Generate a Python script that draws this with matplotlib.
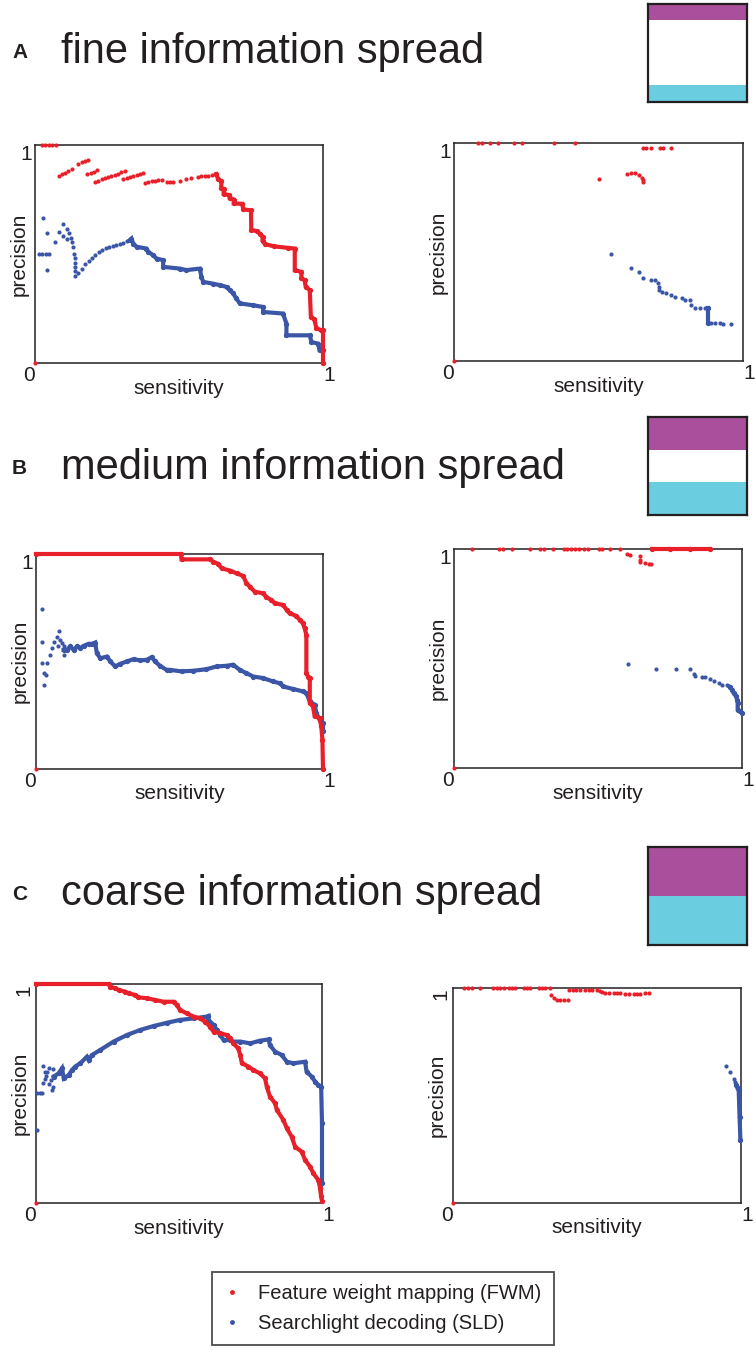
import matplotlib.pyplot as plt
from matplotlib.lines import Line2D

plt.rcParams['font.family'] = ['Liberation Sans', 'DejaVu Sans']

RED = '#e8202a'
BLUE = '#3b56a6'
PURPLE = '#aa4f9b'
CYAN = '#6acde0'
INK = '#231f20'

titles = ['fine information spread', 'medium information spread', 'coarse information spread']
letters = ['A', 'B', 'C']

# colour boxes, bottom to top: cyan, white, purple
box_a = [0.17, 0.67, 0.16]
box_b = [0.34, 0.32, 0.34]
box_c = [0.50, 0.00, 0.50]

# ---- A, left
a_left_fwm_dots = [(0.0, 0.0), (0.023, 1.0), (0.035, 1.0), (0.047, 1.0), (0.06, 1.0), (0.072, 1.0),
                   (0.085, 0.857), (0.095, 0.865), (0.105, 0.873), (0.116, 0.881), (0.127, 0.89),
                   (0.15, 0.914), (0.162, 0.92), (0.173, 0.925), (0.185, 0.931),
                   (0.182, 0.866), (0.193, 0.871), (0.204, 0.877), (0.214, 0.884),
                   (0.208, 0.832), (0.219, 0.837), (0.231, 0.842), (0.242, 0.848), (0.254, 0.853),
                   (0.265, 0.858), (0.277, 0.864), (0.288, 0.869), (0.3, 0.875), (0.312, 0.881),
                   (0.306, 0.842), (0.318, 0.847), (0.33, 0.853), (0.342, 0.858), (0.353, 0.863),
                   (0.365, 0.868), (0.376, 0.873),
                   (0.382, 0.826), (0.393, 0.83), (0.405, 0.834), (0.416, 0.833), (0.428, 0.838),
                   (0.44, 0.84), (0.457, 0.828), (0.468, 0.832), (0.48, 0.83),
                   (0.503, 0.836), (0.526, 0.842), (0.543, 0.847),
                   (0.566, 0.855), (0.578, 0.856), (0.59, 0.858), (0.601, 0.86), (0.613, 0.862), (0.624, 0.866)]
a_left_fwm_line = [(0.63, 0.866), (0.636, 0.842), (0.647, 0.835), (0.647, 0.801), (0.655, 0.797),
                   (0.655, 0.775), (0.675, 0.77), (0.676, 0.755), (0.69, 0.75), (0.69, 0.732),
                   (0.72, 0.73), (0.723, 0.705), (0.75, 0.70), (0.751, 0.61), (0.77, 0.605),
                   (0.78, 0.594), (0.79, 0.58), (0.79, 0.56), (0.80, 0.545), (0.83, 0.535),
                   (0.88, 0.528), (0.902, 0.525), (0.902, 0.426), (0.925, 0.418), (0.925, 0.39),
                   (0.936, 0.38), (0.94, 0.35), (0.954, 0.334), (0.958, 0.21), (0.97, 0.2),
                   (0.977, 0.16), (0.994, 0.15), (1.0, 0.15), (1.0, 0.0)]
a_left_sld_dots = [(0.014, 0.498), (0.026, 0.498), (0.038, 0.498), (0.05, 0.498), (0.027, 0.666),
                   (0.043, 0.597), (0.043, 0.426), (0.069, 0.553), (0.084, 0.599), (0.098, 0.636),
                   (0.11, 0.613), (0.098, 0.582), (0.11, 0.568), (0.118, 0.595), (0.124, 0.575),
                   (0.13, 0.555), (0.133, 0.53), (0.136, 0.5), (0.138, 0.48), (0.14, 0.46),
                   (0.14, 0.44), (0.14, 0.42), (0.14, 0.4),
                   (0.15, 0.415), (0.162, 0.432), (0.174, 0.452), (0.186, 0.468), (0.198, 0.483),
                   (0.21, 0.497), (0.222, 0.51), (0.234, 0.519), (0.246, 0.527), (0.258, 0.531),
                   (0.27, 0.537), (0.282, 0.543), (0.294, 0.547), (0.306, 0.552), (0.318, 0.56)]
a_left_sld_line = [(0.33, 0.565), (0.335, 0.571), (0.341, 0.548), (0.353, 0.533), (0.387, 0.525),
                   (0.393, 0.51), (0.41, 0.495), (0.422, 0.479), (0.445, 0.472), (0.445, 0.441),
                   (0.503, 0.433), (0.526, 0.426), (0.572, 0.433), (0.578, 0.395), (0.584, 0.372),
                   (0.618, 0.364), (0.642, 0.357), (0.665, 0.349), (0.676, 0.334), (0.688, 0.319),
                   (0.699, 0.296), (0.711, 0.273), (0.757, 0.265), (0.792, 0.257), (0.792, 0.234),
                   (0.861, 0.227), (0.873, 0.181), (0.873, 0.127), (0.954, 0.127), (0.96, 0.096),
                   (0.983, 0.089), (0.988, 0.058), (1.0, 0.058)]

# ---- A, right
a_right_fwm_dots = [(0.0, 0.0), (0.084, 1.0), (0.098, 1.0), (0.124, 1.0), (0.153, 1.0), (0.209, 1.0),
                    (0.237, 1.0), (0.347, 1.0), (0.418, 1.0),
                    (0.654, 0.979), (0.666, 0.979), (0.683, 0.979), (0.712, 0.979), (0.724, 0.979),
                    (0.752, 0.979), (0.501, 0.837), (0.597, 0.86), (0.611, 0.863), (0.626, 0.864),
                    (0.641, 0.852), (0.652, 0.841), (0.654, 0.829), (0.654, 0.821)]
a_right_fwm_line = []
a_right_sld_dots = [(0.543, 0.493), (0.612, 0.427), (0.639, 0.409), (0.654, 0.383), (0.68, 0.371),
                    (0.695, 0.371), (0.706, 0.359), (0.708, 0.34), (0.71, 0.325), (0.718, 0.318),
                    (0.735, 0.31), (0.752, 0.302), (0.764, 0.295), (0.79, 0.287), (0.798, 0.279),
                    (0.816, 0.279), (0.821, 0.256), (0.833, 0.241), (0.85, 0.241), (0.868, 0.241),
                    (0.879, 0.241), (0.89, 0.173), (0.902, 0.173), (0.919, 0.173), (0.931, 0.169),
                    (0.96, 0.168)]
a_right_sld_line = [(0.879, 0.241), (0.879, 0.175)]

# ---- B, left
b_left_fwm_dots = [(0.0, 0.0)]
b_left_fwm_line = [(0.0, 1.0), (0.505, 1.0), (0.507, 0.975), (0.606, 0.975), (0.618, 0.964),
                   (0.635, 0.954), (0.647, 0.933), (0.676, 0.923), (0.699, 0.91), (0.722, 0.898),
                   (0.733, 0.864), (0.745, 0.848), (0.762, 0.825), (0.791, 0.817), (0.803, 0.799),
                   (0.82, 0.786), (0.832, 0.771), (0.861, 0.763), (0.873, 0.74), (0.884, 0.724),
                   (0.907, 0.712), (0.919, 0.693), (0.93, 0.678), (0.936, 0.655), (0.942, 0.624),
                   (0.942, 0.446), (0.948, 0.43), (0.954, 0.423), (0.954, 0.307), (0.965, 0.291),
                   (0.971, 0.245), (0.988, 0.237), (0.994, 0.198), (0.998, 0.136), (1.0, 0.0)]
b_left_sld_dots = [(0.021, 0.745), (0.021, 0.593), (0.021, 0.492), (0.038, 0.492), (0.027, 0.446),
                   (0.035, 0.438), (0.027, 0.392), (0.05, 0.531), (0.056, 0.562), (0.064, 0.593),
                   (0.073, 0.616), (0.079, 0.644), (0.075, 0.573), (0.085, 0.601), (0.09, 0.585),
                   (0.096, 0.57), (0.096, 0.531)]
b_left_sld_line = [(0.096, 0.554), (0.108, 0.554), (0.119, 0.57), (0.131, 0.554), (0.143, 0.57),
                   (0.154, 0.562), (0.166, 0.573), (0.183, 0.582), (0.195, 0.582), (0.206, 0.588),
                   (0.212, 0.539), (0.224, 0.515), (0.247, 0.523), (0.259, 0.5), (0.276, 0.477),
                   (0.293, 0.489), (0.316, 0.5), (0.34, 0.511), (0.363, 0.505), (0.386, 0.508),
                   (0.403, 0.52), (0.415, 0.5), (0.432, 0.48), (0.455, 0.461), (0.467, 0.461),
                   (0.507, 0.454), (0.548, 0.457), (0.594, 0.464), (0.629, 0.477), (0.664, 0.48),
                   (0.687, 0.485), (0.71, 0.461), (0.733, 0.446), (0.757, 0.43), (0.791, 0.423),
                   (0.826, 0.407), (0.849, 0.399), (0.861, 0.384), (0.896, 0.372), (0.93, 0.361),
                   (0.942, 0.353), (0.954, 0.314), (0.971, 0.299), (0.977, 0.26), (0.988, 0.229),
                   (1.0, 0.214), (1.0, 0.175)]

# ---- B, right
b_right_fwm_dots = [(0.0, 0.0), (0.061, 1.0), (0.156, 1.0), (0.169, 1.0), (0.203, 1.0), (0.264, 1.0),
                    (0.299, 1.0), (0.311, 1.0), (0.345, 1.0), (0.382, 1.0), (0.392, 1.0), (0.407, 1.0),
                    (0.421, 1.0), (0.435, 1.0), (0.452, 1.0), (0.467, 1.0), (0.502, 1.0), (0.513, 1.0),
                    (0.542, 1.0), (0.577, 1.0),
                    (0.6, 0.979), (0.612, 0.974), (0.647, 0.97), (0.647, 0.951), (0.647, 0.939),
                    (0.664, 0.936), (0.676, 0.933), (0.684, 0.933)]
b_right_fwm_line = [(0.687, 1.0), (0.75, 1.0), (0.82, 1.0), (0.89, 1.0)]
b_right_sld_dots = [(0.603, 0.476), (0.702, 0.454), (0.772, 0.454), (0.82, 0.454), (0.832, 0.429),
                    (0.838, 0.419), (0.861, 0.416), (0.873, 0.416), (0.89, 0.406), (0.902, 0.396),
                    (0.919, 0.388), (0.93, 0.381), (0.948, 0.377)]
b_right_sld_line = [(0.957, 0.37), (0.965, 0.358), (0.971, 0.342), (0.98, 0.327), (0.983, 0.312),
                    (0.985, 0.297), (0.985, 0.266), (0.992, 0.259), (1.0, 0.251)]

# ---- C, left
c_left_fwm_dots = [(0.0, 0.0)]
c_left_fwm_line = [(0.0, 1.0), (0.254, 1.0), (0.26, 0.988), (0.277, 0.98), (0.289, 0.973),
                   (0.312, 0.965), (0.324, 0.957), (0.347, 0.95), (0.358, 0.939), (0.388, 0.935),
                   (0.417, 0.927), (0.446, 0.919), (0.481, 0.919), (0.492, 0.904), (0.504, 0.881),
                   (0.527, 0.866), (0.551, 0.851), (0.574, 0.843), (0.591, 0.828), (0.609, 0.805),
                   (0.621, 0.782), (0.644, 0.775), (0.667, 0.767), (0.679, 0.752), (0.69, 0.729),
                   (0.707, 0.706), (0.714, 0.676), (0.72, 0.638), (0.743, 0.623), (0.76, 0.607),
                   (0.783, 0.592), (0.801, 0.569), (0.807, 0.531), (0.818, 0.486), (0.836, 0.455),
                   (0.842, 0.425), (0.865, 0.379), (0.877, 0.341), (0.894, 0.303), (0.906, 0.257),
                   (0.929, 0.234), (0.941, 0.196), (0.958, 0.166), (0.97, 0.135), (0.987, 0.105),
                   (0.993, 0.07), (0.997, 0.03), (1.0, 0.01)]
c_left_sld_dots = [(0.003, 0.333), (0.003, 0.501), (0.015, 0.501), (0.021, 0.504), (0.025, 0.55),
                   (0.03, 0.565), (0.035, 0.58), (0.04, 0.6), (0.045, 0.615), (0.03, 0.6),
                   (0.047, 0.545), (0.053, 0.56), (0.058, 0.58), (0.06, 0.61), (0.058, 0.53),
                   (0.055, 0.515), (0.025, 0.625)]
c_left_sld_line = [(0.062, 0.577), (0.079, 0.592), (0.091, 0.615), (0.097, 0.569), (0.114, 0.584),
                   (0.126, 0.607), (0.137, 0.623), (0.155, 0.638), (0.178, 0.668), (0.184, 0.653),
                   (0.196, 0.676), (0.225, 0.699), (0.271, 0.737), (0.318, 0.767), (0.364, 0.79),
                   (0.411, 0.808), (0.458, 0.823), (0.504, 0.836), (0.551, 0.843), (0.597, 0.851),
                   (0.603, 0.854), (0.603, 0.836), (0.621, 0.813), (0.632, 0.79), (0.644, 0.767),
                   (0.656, 0.744), (0.679, 0.744), (0.69, 0.737), (0.714, 0.737), (0.749, 0.729),
                   (0.783, 0.741), (0.813, 0.747), (0.818, 0.721), (0.836, 0.691), (0.859, 0.676),
                   (0.877, 0.645), (0.9, 0.638), (0.941, 0.645), (0.946, 0.6), (0.964, 0.577),
                   (0.976, 0.554), (0.987, 0.539), (0.997, 0.531), (1.0, 0.364), (1.0, 0.09)]

# ---- C, right
c_right_fwm_dots = [(0.0, 0.0), (0.037, 1.0), (0.051, 1.0), (0.066, 1.0), (0.093, 1.0), (0.138, 1.0),
                    (0.153, 1.0), (0.164, 1.0), (0.178, 1.0), (0.193, 1.0), (0.205, 1.0), (0.216, 1.0),
                    (0.245, 1.0), (0.257, 1.0), (0.269, 1.0), (0.297, 1.0), (0.309, 1.0), (0.32, 1.0),
                    (0.338, 1.0),
                    (0.341, 0.966), (0.352, 0.955), (0.361, 0.943), (0.373, 0.943), (0.384, 0.946),
                    (0.398, 0.946),
                    (0.402, 0.989), (0.415, 0.99), (0.428, 0.99), (0.442, 0.992), (0.459, 0.992),
                    (0.471, 0.992), (0.483, 0.992), (0.5, 0.989), (0.512, 0.986), (0.517, 0.981),
                    (0.528, 0.979), (0.54, 0.977), (0.558, 0.977), (0.57, 0.977), (0.581, 0.978),
                    (0.598, 0.974), (0.61, 0.974), (0.627, 0.974), (0.638, 0.974), (0.65, 0.974),
                    (0.665, 0.975), (0.679, 0.975)]
c_right_fwm_line = []
c_right_sld_dots = [(0.948, 0.638), (0.963, 0.608), (0.975, 0.577), (0.98, 0.563)]
c_right_sld_line = [(0.984, 0.548), (0.988, 0.533), (0.992, 0.525), (0.995, 0.401), (0.998, 0.293)]

W, H = 756, 1362


def pos(l, t, r, b):
    return [l / W, 1 - b / H, (r - l) / W, (b - t) / H]


def draw(ax, pts, color, line):
    if not pts:
        return
    xs = [p[0] for p in pts]
    ys = [p[1] for p in pts]
    if line:
        ax.plot(xs, ys, '-', color=color, lw=3.0, marker='o', ms=2.8, clip_on=False,
                solid_joinstyle='miter', zorder=3)
    else:
        ax.plot(xs, ys, 'o', color=color, ms=3.0, mec='none', clip_on=False, zorder=3)


def pr_axes(rect, sld_dots, sld_line, fwm_dots, fwm_line, turn_one):
    ax = fig.add_axes(pos(*rect))
    draw(ax, sld_line, BLUE, True)
    draw(ax, sld_dots, BLUE, False)
    draw(ax, fwm_line, RED, True)
    draw(ax, fwm_dots, RED, False)
    ax.set_xlim(0, 1)
    ax.set_ylim(0, 1)
    for s in ax.spines.values():
        s.set_linewidth(1.1)
        s.set_color(INK)
    ax.set_xticks([0, 1], ['0', '1'])
    ax.set_yticks([1], ['1'])
    ax.tick_params(length=0, labelsize=15, colors=INK, pad=2)
    xl = ax.get_xticklabels()
    xl[0].set_ha('right')
    xl[1].set_ha('left')
    for t in ax.get_yticklabels():
        if turn_one:
            t.set_rotation(90)
        t.set_va('top')
    ax.set_xlabel('sensitivity', fontsize=15, color=INK, va='center')
    ax.xaxis.set_label_coords(0.5, -0.115)
    ax.set_ylabel('precision', fontsize=15, color=INK)
    ax.yaxis.set_label_coords(-0.022, 0.5)
    return ax


def box_axes(rect, fracs):
    ax = fig.add_axes(pos(*rect))
    ax.bar([0], [fracs[0]], width=1, color=CYAN)
    ax.bar([0], [fracs[1]], width=1, bottom=fracs[0], color='white')
    ax.bar([0], [fracs[2]], width=1, bottom=fracs[0] + fracs[1], color=PURPLE)
    ax.set_xlim(-0.5, 0.5)
    ax.set_ylim(0, 1)
    ax.set_xticks([])
    ax.set_yticks([])
    for s in ax.spines.values():
        s.set_linewidth(1.6)
        s.set_color(INK)


fig = plt.figure(figsize=(W / 100, H / 100), dpi=100)

pr_axes((35, 145, 323, 363), a_left_sld_dots, a_left_sld_line, a_left_fwm_dots, a_left_fwm_line, False)
pr_axes((454, 143, 743, 361), a_right_sld_dots, a_right_sld_line, a_right_fwm_dots, a_right_fwm_line, False)
pr_axes((36, 554, 323, 769), b_left_sld_dots, b_left_sld_line, b_left_fwm_dots, b_left_fwm_line, False)
pr_axes((454, 549, 742, 768), b_right_sld_dots, b_right_sld_line, b_right_fwm_dots, b_right_fwm_line, False)
pr_axes((36, 984, 322, 1203), c_left_sld_dots, c_left_sld_line, c_left_fwm_dots, c_left_fwm_line, True)
pr_axes((453, 988, 741, 1203), c_right_sld_dots, c_right_sld_line, c_right_fwm_dots, c_right_fwm_line, True)

box_axes((648, 4, 747, 102), box_a)
box_axes((648, 417, 747, 515), box_b)
box_axes((648, 847, 747, 945), box_c)

for letter, title, y in zip(letters, titles, [51, 467, 893]):
    fig.text(12 / W, 1 - (y + 2) / H, letter, fontsize=15, fontweight='bold', color=INK, va='center')
    fig.text(61 / W, 1 - (y + 1) / H, title, fontsize=30, color=INK, va='center')

handles = [Line2D([], [], ls='none', marker='o', ms=3.5, color=RED, mec='none'),
           Line2D([], [], ls='none', marker='o', ms=3.5, color=BLUE, mec='none')]
leg = fig.legend(handles, ['Feature weight mapping (FWM)', 'Searchlight decoding (SLD)'],
                 loc='upper left', bbox_to_anchor=(212 / W, 1 - 1272 / H), fontsize=14.5,
                 frameon=True, fancybox=False, edgecolor=INK, handlelength=0.8,
                 handletextpad=0.9, borderpad=0.6, labelspacing=0.55, borderaxespad=0)
leg.get_frame().set_linewidth(1.3)
for t in leg.get_texts():
    t.set_color(INK)

fig.savefig('out.png', dpi=100)
